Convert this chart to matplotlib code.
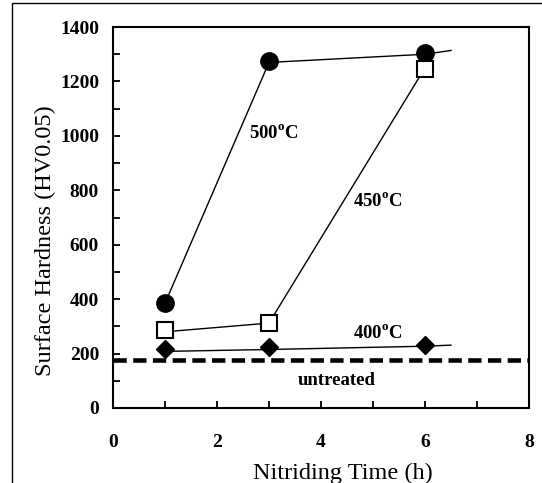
import numpy as np
import matplotlib
matplotlib.use("Agg")
import matplotlib.pyplot as plt
from matplotlib.patches import Rectangle
from matplotlib.ticker import MultipleLocator

plt.rcParams['font.family'] = 'Liberation Serif'
plt.rcParams['mathtext.fontset'] = 'custom'
plt.rcParams['mathtext.rm'] = 'Liberation Serif:bold'
plt.rcParams['mathtext.bf'] = 'Liberation Serif:bold'

### data ###
t_pts = [1, 3, 6]
hv_500 = [385, 1275, 1305]
hv_450 = [286, 311, 1245]
hv_400 = [216, 224, 231]
# lines drawn through the points, 500 and 400 run on to 6.5 h
t_500_line = [1, 3, 6, 6.5]
hv_500_line = [385, 1270, 1300, 1314]
t_450_line = [1, 3, 6]
hv_450_line = [280, 312, 1250]
t_400_line = [1, 3, 6, 6.5]
hv_400_line = [208, 215, 227, 231]
untreated = 176
labels = ['500$^{\\mathrm{o}}$C', '450$^{\\mathrm{o}}$C', '400$^{\\mathrm{o}}$C', 'untreated']
label_xy = [(3.1, 1012), (5.1, 760), (5.1, 275), (4.3, 100)]

fig = plt.figure(figsize=(5.42, 4.83), dpi=100)
ax = fig.add_axes([0.2085, 0.1553, 0.7675, 0.7887])

# outer frame of the original graphic
fig.patches.append(Rectangle((0.022, -0.2), 1.5, 1.194, transform=fig.transFigure,
                             fill=False, lw=1.0, ec='black'))

ax.plot(t_500_line, hv_500_line, '-', c='k', lw=1.0)
ax.plot(t_450_line, hv_450_line, '-', c='k', lw=1.0)
ax.plot(t_400_line, hv_400_line, '-', c='k', lw=1.0)
ax.plot(t_pts, hv_500, 'o', c='k', ms=12.5)
ax.plot(t_pts, hv_450, 's', mfc='white', mec='k', mew=1.5, ms=12)
ax.plot(t_pts, hv_400, 'D', c='k', ms=9.5)
ax.plot([0, 8], [untreated, untreated], '--', c='k', lw=3.3, dashes=(2.9, 1.4))

for s, (x, y) in zip(labels, label_xy):
    ax.text(x, y, s, ha='center', va='center', fontsize=13.5, fontweight='bold')

ax.set_xlim(0, 8)
ax.set_ylim(0, 1400)
ax.xaxis.set_major_locator(MultipleLocator(2))
ax.xaxis.set_minor_locator(MultipleLocator(1))
ax.yaxis.set_major_locator(MultipleLocator(200))
ax.yaxis.set_minor_locator(MultipleLocator(100))
ax.tick_params(which='both', direction='in', top=False, right=False, width=1.3, length=5)
ax.tick_params(axis='x', which='major', pad=19, labelsize=14)
ax.tick_params(axis='y', which='major', pad=10, labelsize=14)
for lab in ax.get_xticklabels() + ax.get_yticklabels():
    lab.set_fontweight('bold')
for sp in ax.spines.values():
    sp.set_linewidth(1.5)

ax.set_xlabel('Nitriding Time (h)', fontsize=17.5, labelpad=8, x=0.553)
ax.set_ylabel('Surface Hardness (HV0.05)', fontsize=17.5, labelpad=3, y=0.44)

fig.savefig('out.png', dpi=100)
